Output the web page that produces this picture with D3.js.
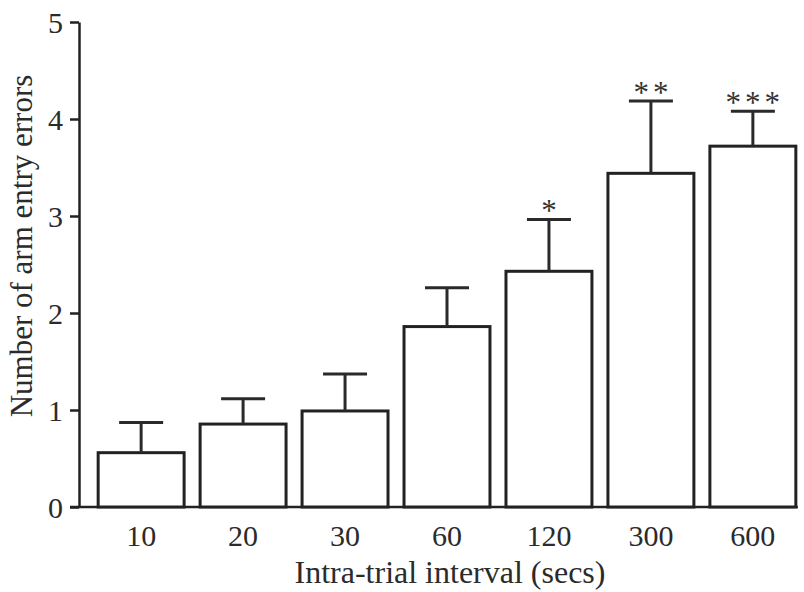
<!DOCTYPE html>
<meta charset="utf-8">
<style>

html, body {
  margin: 0;
  background: #fff;
}

svg {
  display: block;
  font-family: "Liberation Serif", "Times New Roman", serif;
}

.bars rect {
  fill: #fff;
  stroke: #222;
  stroke-width: 3px;
}

.errors line {
  stroke: #2a2a2a;
  stroke-width: 3px;
}

.axis path,
.axis line {
  stroke: #222;
  stroke-width: 2.5px;
}

.axis text {
  fill: #2b2b2b;
  font-size: 30px;
  font-family: "Liberation Serif", "Times New Roman", serif;
}

</style>
<svg class="chart"></svg>
<script src="https://d3js.org/d3.v7.min.js"></script>
<script>

var width = 804;
var height = 592;

var intervals = ['10', '20', '30', '60', '120', '300', '600'];
var means = [0.56, 0.855, 0.99, 1.86, 2.43, 3.44, 3.72];
var errors = [0.31, 0.26, 0.38, 0.40, 0.535, 0.745, 0.36];
var stars = ['', '', '', '', '*', '**', '***'];
var yTicks = [0, 1, 2, 3, 4, 5];

var svg = d3.select('svg.chart')
  .attr('width', width)
  .attr('height', height);

var x = d3.scaleBand()
  .domain(intervals)
  .range([90, 804])
  .paddingInner(0.157)
  .paddingOuter(0.08);

var y = d3.scaleLinear()
  .domain([0, 5])
  .range([507, 22]);

// y axis
svg.append('g')
    .attr('class', 'axis')
    .attr('transform', 'translate(79,0)')
    .call(d3.axisLeft(y).tickValues(yTicks).tickFormat(d3.format('d')).tickSize(9).tickSizeOuter(0).tickPadding(7))
  .selectAll('text')
    .attr('dy', '0.34em');

// x axis line
svg.append('g')
    .attr('class', 'axis')
  .append('line')
    .attr('x1', 70)
    .attr('x2', x('600') + x.bandwidth() + 2)
    .attr('y1', y(0))
    .attr('y2', y(0));

var bars = svg.append('g').attr('class', 'bars');

var errs = svg.append('g').attr('class', 'errors');

errs.selectAll('line.stem')
  .data(intervals)
  .enter().append('line')
  .attr('class', 'stem')
  .attr('x1', function (d) { return x(d) + x.bandwidth() / 2; })
  .attr('x2', function (d) { return x(d) + x.bandwidth() / 2; })
  .attr('y1', function (d, i) { return y(means[i]); })
  .attr('y2', function (d, i) { return y(means[i] + errors[i]); });

errs.selectAll('line.cap')
  .data(intervals)
  .enter().append('line')
  .attr('class', 'cap')
  .attr('x1', function (d) { return x(d) + x.bandwidth() / 2 - 22; })
  .attr('x2', function (d) { return x(d) + x.bandwidth() / 2 + 22; })
  .attr('y1', function (d, i) { return y(means[i] + errors[i]); })
  .attr('y2', function (d, i) { return y(means[i] + errors[i]); });

bars.selectAll('rect')
  .data(intervals)
  .enter().append('rect')
  .attr('x', function (d) { return x(d); })
  .attr('width', x.bandwidth())
  .attr('y', function (d, i) { return y(means[i]); })
  .attr('height', function (d, i) { return y(0) - y(means[i]); });

// significance stars
svg.append('g')
  .selectAll('text')
  .data(intervals)
  .enter().append('text')
  .attr('x', function (d) { return x(d) + x.bandwidth() / 2 + 2; })
  .attr('y', function (d, i) { return y(means[i] + errors[i]) + 2; })
  .attr('text-anchor', 'middle')
  .attr('fill', '#333')
  .style('font-size', '31px')
  .style('letter-spacing', '4px')
  .text(function (d, i) { return stars[i]; });

// x tick labels
svg.append('g')
  .attr('class', 'axis')
  .selectAll('text')
  .data(intervals)
  .enter().append('text')
  .attr('x', function (d) { return x(d) + x.bandwidth() / 2; })
  .attr('y', 546)
  .attr('text-anchor', 'middle')
  .text(function (d) { return d; });

svg.append('text')
  .attr('x', 450)
  .attr('y', 583)
  .attr('text-anchor', 'middle')
  .attr('fill', '#2b2b2b')
  .style('font-size', '32px')
  .text('Intra-trial interval (secs)');

svg.append('text')
  .attr('transform', 'translate(32,246) rotate(-90)')
  .attr('text-anchor', 'middle')
  .attr('fill', '#2b2b2b')
  .style('font-size', '31px')
  .text('Number of arm entry errors');

</script>
